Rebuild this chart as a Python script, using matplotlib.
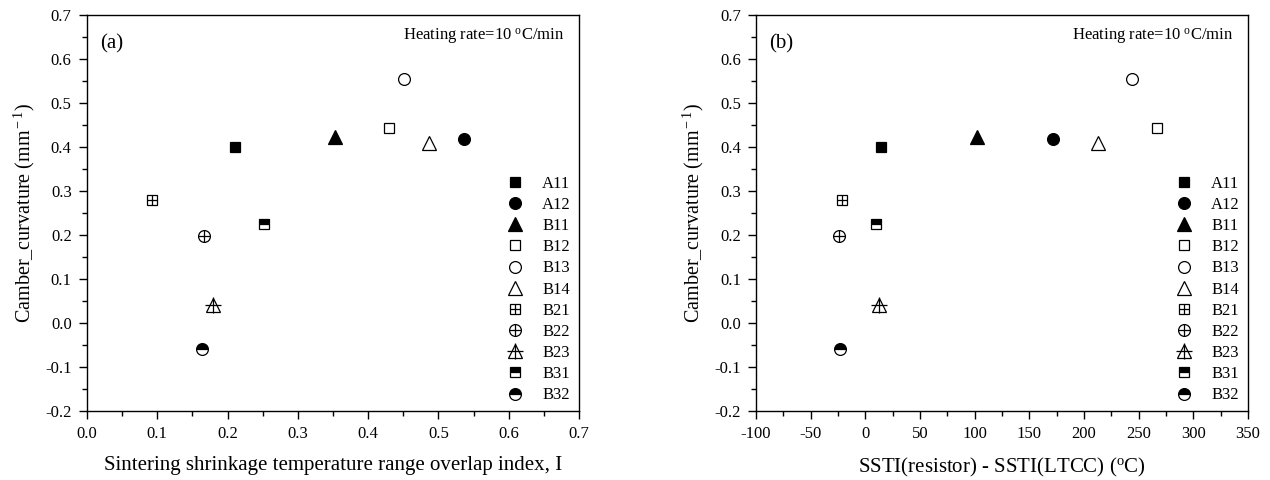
import matplotlib
matplotlib.use("Agg")
import matplotlib.pyplot as plt
from matplotlib.legend_handler import HandlerTuple
from matplotlib.ticker import MultipleLocator, AutoMinorLocator

plt.rcParams["font.family"] = ["Liberation Serif", "DejaVu Serif"]
plt.rcParams["mathtext.fontset"] = "custom"
plt.rcParams["mathtext.rm"] = "Liberation Serif"
plt.rcParams["mathtext.it"] = "Liberation Serif:italic"
plt.rcParams["axes.unicode_minus"] = False

# data
samples = ["A11", "A12", "B11", "B12", "B13", "B14", "B21", "B22", "B23", "B31", "B32"]
overlap_index = [0.210, 0.537, 0.353, 0.429, 0.451, 0.486, 0.093, 0.166, 0.179, 0.252, 0.164]
ssti_diff = [14.5, 172, 102.5, 267, 244, 212.5, -21, -24.3, 12.2, 9.6, -23.6]
curvature = [0.400, 0.419, 0.422, 0.444, 0.555, 0.410, 0.279, 0.197, 0.040, 0.226, -0.059]

# marker style per sample: (marker, fillstyle, overlay plus?)
styles = {
    "A11": ("s", "full", False),
    "A12": ("o", "full", False),
    "B11": ("^", "full", False),
    "B12": ("s", "none", False),
    "B13": ("o", "none", False),
    "B14": ("^", "none", False),
    "B21": ("s", "none", True),
    "B22": ("o", "none", True),
    "B23": ("^", "none", True),
    "B31": ("s", "top", False),
    "B32": ("o", "top", False),
}
marker_size = {"s": 7.5, "o": 8.5, "^": 9.5}


def draw_point(ax, name, x, y):
    marker, fill, plus = styles[name]
    h = ax.plot([x], [y], linestyle="none", marker=marker, markersize=marker_size[marker],
                fillstyle=fill, color="black", markerfacecoloralt="white",
                markeredgewidth=0.9)[0]
    if not plus:
        return h
    psize = 12 if marker == "^" else marker_size[marker]
    p = ax.plot([x], [y], linestyle="none", marker="+", markersize=psize,
                color="black", markeredgewidth=0.9)[0]
    return (h, p)


fig = plt.figure(figsize=(12.7, 4.8), dpi=100)
ax1 = fig.add_axes([0.0685, 0.1438, 0.3874, 0.825])
ax2 = fig.add_axes([0.5953, 0.1438, 0.3874, 0.825])

panels = [
    (ax1, overlap_index, "(a)", "Sintering shrinkage temperature range overlap index, I",
     (0.0, 0.7), 0.1),
    (ax2, ssti_diff, "(b)", "SSTI(resistor) - SSTI(LTCC) ($^{\\rm o}$C)",
     (-100, 350), 50),
]

for ax, xs, tag, xlabel, xlim, xstep in panels:
    handles = []
    for name, x, y in zip(samples, xs, curvature):
        handles.append(draw_point(ax, name, x, y))

    ax.set_xlim(*xlim)
    ax.set_ylim(-0.2, 0.7)
    ax.xaxis.set_major_locator(MultipleLocator(xstep))
    ax.yaxis.set_major_locator(MultipleLocator(0.1))
    ax.xaxis.set_minor_locator(AutoMinorLocator(2))
    ax.yaxis.set_minor_locator(AutoMinorLocator(2))
    if xstep == 0.1:
        ax.xaxis.set_major_formatter(plt.FormatStrFormatter("%.1f"))
    ax.yaxis.set_major_formatter(plt.FormatStrFormatter("%.1f"))
    ax.tick_params(which="both", direction="out", top=False, right=False,
                   labelsize=12, width=1.0, pad=5)
    ax.tick_params(which="major", length=6)
    ax.tick_params(which="minor", length=3.5)
    for sp in ax.spines.values():
        sp.set_linewidth(1.0)

    ax.set_xlabel(xlabel, fontsize=15, labelpad=10)
    ax.set_ylabel("Camber_curvature (mm$^{\\rm -1}$)", fontsize=14.5, labelpad=6)
    ax.text(0.026, 0.926, tag, transform=ax.transAxes, fontsize=15, va="center")
    ax.text(0.97, 0.945, "Heating rate=10 $^{\\rm o}$C/min", transform=ax.transAxes,
            fontsize=12, ha="right", va="center")

    ax.legend(handles, samples, loc="lower right", bbox_to_anchor=(1.0, -0.002),
              frameon=False, fontsize=12, handlelength=0.8, handletextpad=1.2,
              labelspacing=0.31, borderpad=0.0,
              handler_map={tuple: HandlerTuple(ndivide=1, pad=0)})

fig.savefig("out.png", dpi=100)
